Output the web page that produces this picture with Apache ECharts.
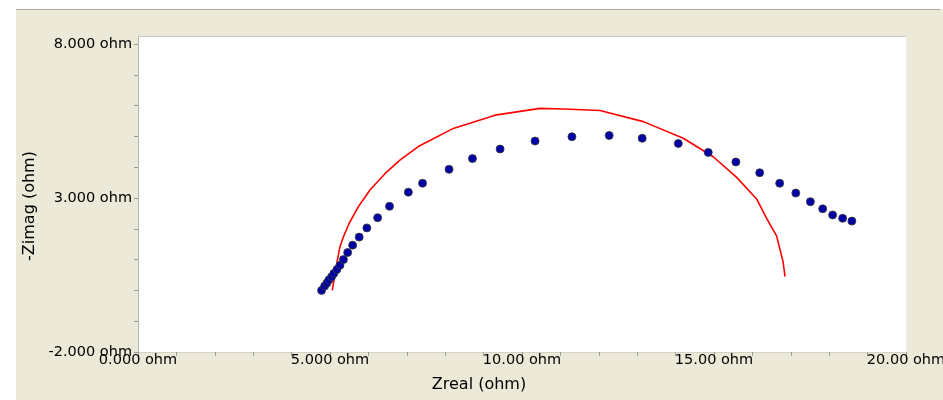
<!DOCTYPE html>
<html>
<head>
<meta charset="utf-8">
<script src="https://cdn.jsdelivr.net/npm/echarts@6/dist/echarts.min.js"></script>
<style>
  html, body { margin: 0; padding: 0; background: #ffffff; }
  #chart { width: 943px; height: 400px; }
</style>
</head>
<body>
<div id="chart"></div>
<script>
// Measured impedance (Nyquist plot): real part and negative imaginary part, ohm
const zReal = [4.78, 4.86, 4.92, 4.97, 5.04, 5.10, 5.18, 5.26, 5.35, 5.46,
               5.59, 5.76, 5.96, 6.24, 6.55, 7.04, 7.41, 8.10, 8.71, 9.43,
               10.34, 11.30, 12.27, 13.13, 14.07, 14.85, 15.57, 16.19, 16.71, 17.13,
               17.51, 17.83, 18.09, 18.35, 18.59];
const zImag = [0.00, 0.14, 0.24, 0.34, 0.44, 0.55, 0.68, 0.82, 1.00, 1.23,
               1.47, 1.73, 2.03, 2.36, 2.73, 3.19, 3.48, 3.93, 4.28, 4.59,
               4.85, 4.99, 5.03, 4.94, 4.77, 4.48, 4.17, 3.82, 3.48, 3.16,
               2.88, 2.65, 2.45, 2.34, 2.25];

// Model fit curve
const fitReal = [5.06, 5.16, 5.26, 5.35, 5.50, 5.74, 6.04, 6.48, 6.82, 7.30,
                 8.21, 9.30, 10.47, 11.08, 12.03, 13.16, 14.20, 14.98, 15.59, 16.11,
                 16.37, 16.63, 16.80, 16.85];
const fitImag = [0.00, 0.77, 1.42, 1.74, 2.18, 2.72, 3.26, 3.85, 4.23, 4.67,
                 5.26, 5.69, 5.91, 5.89, 5.84, 5.48, 4.94, 4.34, 3.67, 2.97,
                 2.34, 1.77, 0.92, 0.45];

// Axis ticks and labels
const xMinorTicks = [0, 1, 2, 3, 4, 5, 6, 7, 8, 9, 10, 11, 12, 13, 14, 15, 16, 17, 18, 19, 20];
const xTickValues = [0, 5, 10, 15, 20];
const xTickLabels = ['0.000 ohm', '5.000 ohm', '10.00 ohm', '15.00 ohm', '20.00 ohm'];
const yMinorTicks = [-2, -1, 0, 1, 2, 3, 4, 5, 6, 7, 8];
const yTickValues = [-2, 3, 8];
const yTickLabels = ['-2.000 ohm', '3.000 ohm', '8.000 ohm'];

const measured = zReal.map((x, i) => [x, zImag[i]]);
const fitted = fitReal.map((x, i) => [x, fitImag[i]]);

const FONT = 'DejaVu Sans';
const chart = echarts.init(document.getElementById('chart'), null, { renderer: 'canvas' });

chart.setOption({
  animation: false,
  backgroundColor: '#ECE9D8',
  graphic: [
    // white margin strips and window frame line
    { type: 'rect', shape: { x: 0, y: 0, width: 943, height: 9 }, style: { fill: '#ffffff' }, silent: true },
    { type: 'rect', shape: { x: 0, y: 0, width: 16, height: 400 }, style: { fill: '#ffffff' }, silent: true },
    { type: 'line', shape: { x1: 16, y1: 9.5, x2: 940, y2: 9.5 }, style: { stroke: '#A7A6A0', lineWidth: 1 }, silent: true },
    // top edge of the plotting area
    { type: 'line', shape: { x1: 138, y1: 36.5, x2: 906, y2: 36.5 }, style: { stroke: '#C8C8C8', lineWidth: 1 }, silent: true, z: 10 }
  ],
  grid: {
    left: 138, right: 37, top: 36, bottom: 48,
    outerBoundsMode: 'none',
    containLabel: false,
    show: true, backgroundColor: '#ffffff', borderWidth: 0
  },
  xAxis: {
    type: 'value',
    min: 0, max: 20,
    name: 'Zreal (ohm)',
    nameLocation: 'middle',
    nameGap: 25,
    nameTextStyle: { fontFamily: FONT, fontSize: 16, color: '#000', verticalAlign: 'top', padding: [0, 86, 0, 0] },
    axisLine: { show: true, onZero: false, lineStyle: { color: '#D6D3C4', width: 1 } },
    axisTick: { show: true, inside: false, length: 4, customValues: xMinorTicks, lineStyle: { color: '#9A9A9A' } },
    axisLabel: {
      show: true, margin: 1, customValues: xTickValues,
      showMinLabel: true, showMaxLabel: true, hideOverlap: false,
      fontFamily: FONT, fontSize: 14.5, color: '#000',
      formatter: (v) => { const i = xTickValues.indexOf(v); return i >= 0 ? xTickLabels[i] : ''; }
    },
    splitLine: { show: false }
  },
  yAxis: {
    type: 'value',
    min: -2, max: 8.26,
    name: '-Zimag (ohm)',
    nameLocation: 'middle',
    nameGap: 95,
    nameRotate: 90,
    nameTextStyle: { fontFamily: FONT, fontSize: 16, color: '#000', padding: [0, 24, 0, 0] },
    axisLine: { show: true, onZero: false, lineStyle: { color: '#B4B4B4', width: 1 } },
    axisTick: { show: true, inside: false, length: 4, customValues: yMinorTicks, lineStyle: { color: '#9A9A9A' } },
    axisLabel: {
      show: true, margin: 6, customValues: yTickValues,
      showMinLabel: true, showMaxLabel: true, hideOverlap: false,
      fontFamily: FONT, fontSize: 14.5, color: '#000',
      formatter: (v) => { const i = yTickValues.indexOf(v); return i >= 0 ? yTickLabels[i] : ''; }
    },
    splitLine: { show: false }
  },
  series: [
    {
      name: 'Fit',
      type: 'line',
      data: fitted,
      showSymbol: false,
      smooth: false,
      lineStyle: { color: '#FF0000', width: 1.6 },
      z: 2
    },
    {
      name: 'Measured',
      type: 'scatter',
      data: measured,
      symbol: 'circle',
      symbolSize: 8,
      itemStyle: { color: '#0000A6', borderColor: '#3A3A3A', borderWidth: 0.8, opacity: 1 },
      z: 3
    }
  ]
});
</script>
</body>
</html>
